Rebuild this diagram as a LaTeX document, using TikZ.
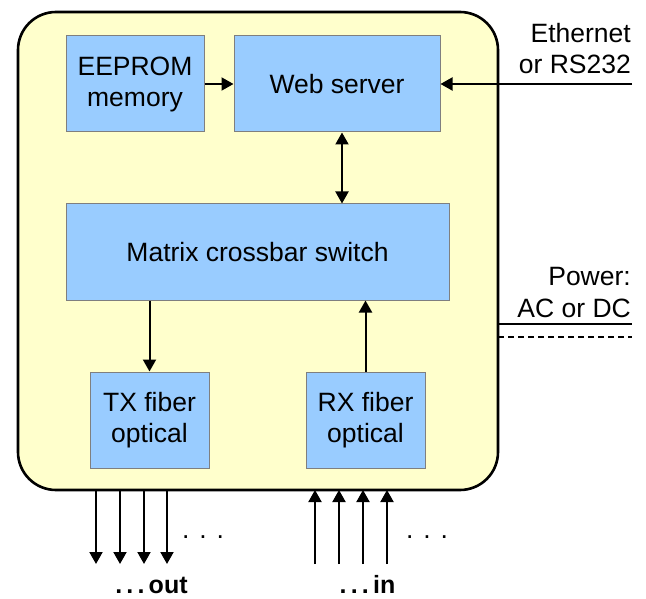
\documentclass[tikz,border=0pt]{standalone}
\usepackage{fontspec}
\setmainfont{Liberation Sans}
\usetikzlibrary{arrows.meta}
\definecolor{panel}{HTML}{FFFFCC}
\definecolor{blk}{HTML}{99CCFF}
\definecolor{blkline}{HTML}{7F7F7F}
\begin{document}
\begin{tikzpicture}[x=1pt,y=-1pt,
  blockbox/.style={draw=blkline, fill=blk, line width=1pt, align=center, font=\fontsize{26.5}{31}\selectfont},
  tip/.tip={Triangle[length=12pt,width=13pt]},
  conn/.style={line width=2pt, -tip},
  lbl/.style={font=\fontsize{26.5}{31}\selectfont, inner sep=0pt},
  plain/.style={line width=1.8pt}]
\useasboundingbox (0,0) rectangle (646,599);
\draw[line width=2.6pt, fill=panel, rounded corners=38pt] (18,12) rectangle (498,490);
\node[blockbox, minimum width=138pt, minimum height=96pt] (ee) at (135,84) {EEPROM\\memory};
\node[blockbox, minimum width=206pt, minimum height=96pt] (web) at (337,84) {Web server};
\node[blockbox, minimum width=383pt, minimum height=96pt] (mx) at (257.5,252) {Matrix crossbar switch};
\node[blockbox, minimum width=119pt, minimum height=96pt] (tx) at (149.5,420) {TX fiber\\optical};
\node[blockbox, minimum width=119pt, minimum height=96pt] (rx) at (365.5,420) {RX fiber\\optical};
\draw[conn] (ee) -- (web);
\draw[conn, tip-tip] (web.south -| 342,0) -- (mx.north -| 342,0);
\draw[conn] (mx.south -| tx) -- (tx);
\draw[conn] (rx) -- (mx.south -| rx);
% ethernet
\coordinate (eth) at (632,84);
\draw[conn] (eth) -- (web.east |- eth);
\node[lbl, anchor=base east] (ethl1) at (631,43) {Ethernet};
\node[lbl, anchor=base east] (ethl2) at (631,74) {or RS232};
% power
\coordinate (pw1) at (498,324);
\coordinate (pw2) at (632,324);
\coordinate (pd1) at (498,337);
\coordinate (pd2) at (632,337);
\draw[plain] (pw1) -- (pw2);
\draw[plain, line width=1.4pt, dash pattern=on 6pt off 4pt] (pd1) -- (pd2);
\node[lbl, anchor=base east] (pwl1) at (631,285) {Power:};
\node[lbl, anchor=base east] (pwl2) at (631,317) {AC or DC};
% outputs
\foreach \x [count=\i] in {96,120,144,167} {
  \coordinate (o\i a) at (\x,490);
  \coordinate (o\i b) at (\x,564);
  \draw[conn] (o\i a) -- (o\i b);
}
\foreach \x [count=\i] in {315,339,363,387} {
  \coordinate (i\i a) at (\x,564);
  \coordinate (i\i b) at (\x,490);
  \draw[conn] (i\i a) -- (i\i b);
}
\node[lbl, anchor=base west] (od) at (182,538) {. . .};
\node[lbl, anchor=base west] (id) at (406,538) {. . .};
\node[lbl, anchor=base, font=\bfseries\fontsize{25}{30}\selectfont] (out) at (151.5,593) {.\,.\,.\,out};
\node[lbl, anchor=base, font=\bfseries\fontsize{25}{30}\selectfont] (in) at (367.5,593) {.\,.\,.\,in};
\end{tikzpicture}
\end{document}
